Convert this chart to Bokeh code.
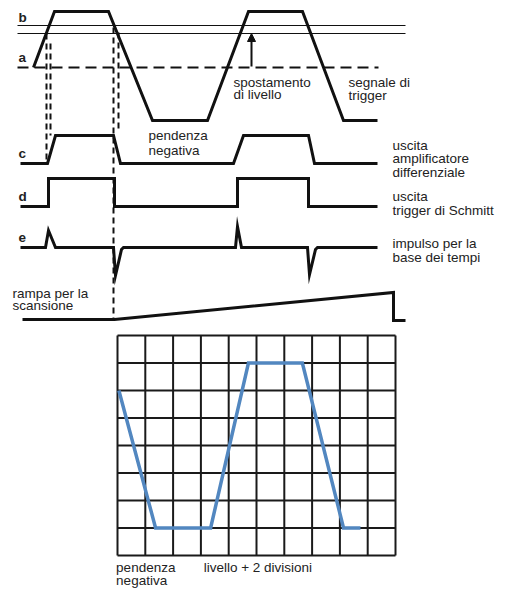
from bokeh.plotting import figure
from bokeh.layouts import column
from bokeh.models import Range1d, Arrow, NormalHead
from bokeh.core.properties import value
from bokeh.embed import file_html
from bokeh.resources import INLINE

# ---------------- data (upper diagram, read in picture units) ----------------
# trigger signal (a/b)
trig_x = [33, 54, 108, 152, 207, 248, 302, 343, 377]
trig_y = [67, 11, 11, 120, 120, 11, 11, 120, 120]
# level lines b (two thin lines) and a (dashed)
level_b_y = [25, 33]
level_b_x = [17, 405]
level_a_y = 67
level_a_x = [17, 378]
# level shift arrow
shift_x = 251
shift_y = [66, 33]
# c: differential amplifier output
amp_x = [20, 47, 55, 113, 120, 233, 243, 308, 314, 377]
amp_y = [163, 163, 135, 135, 163, 163, 135, 135, 163, 163]
# d: Schmitt trigger output
sch_x = [20, 48, 48, 114, 114, 237, 237, 308, 308, 377]
sch_y = [206, 206, 178, 178, 206, 206, 178, 178, 206, 206]
# e: time base pulses
pul_x = [20, 45, 48, 55, 113, 115, 121, 123, 235, 237, 241, 307, 309, 315, 317, 377]
pul_y = [247, 247, 230, 247, 247, 275, 249, 247, 247, 226, 247, 247, 274, 249, 247, 247]
# sweep ramp
ramp_x = [22, 114, 393, 393, 405]
ramp_y = [319, 319, 292, 320, 320]
# dashed projection lines
proj_x = [46, 50, 113, 118]
proj_top = [33, 43, 27, 32]
proj_bot = [163, 135, 318, 130]

left_labels = ["b", "a", "c", "d", "e"]
left_label_y = [17, 57, 153, 196, 237]

text_lines = ["spostamento", "di livello", "segnale di", "trigger",
              "pendenza", "negativa",
              "uscita", "amplificatore", "differenziale",
              "uscita", "trigger di Schmitt",
              "impulso per la", "base dei tempi",
              "rampa per la", "scansione"]
text_x = [233, 233, 348, 348, 148, 148, 392, 392, 392, 392, 392, 392, 392, 12, 12]
text_y = [82, 94, 82, 95, 135, 150, 145, 158, 172, 196, 210, 243, 257, 293, 305]

# ---------------- data (oscilloscope screen, in divisions) ----------------
n_cols = 10
n_rows = 8
trace_div_x = [0.05, 1.37, 3.35, 4.71, 6.65, 8.13, 8.74]
trace_div_y = [6, 1, 1, 7, 7, 1, 1]
screen_labels = ["pendenza", "negativa", "livello + 2 divisioni"]
screen_label_x = [-0.05, -0.05, 3.1]
screen_label_y = [-0.45, -0.91, -0.45]

FONT = value("Liberation Sans")
FS = value("13.5px")
INK = "#111111"
TXT = "#222222"

W = 505
H_TOP = 330
H_BOT = 259

# ---------------- upper figure ----------------
p1 = figure(width=W, height=H_TOP, output_backend="svg", toolbar_location=None,
            x_range=Range1d(0, W), y_range=Range1d(H_TOP, 0), min_border=0)
p1.axis.visible = False
p1.grid.visible = False
p1.outline_line_color = None

for yb in level_b_y:
    p1.line(level_b_x, [yb, yb], line_color=INK, line_width=1)
p1.line(level_a_x, [level_a_y, level_a_y], line_color=INK, line_width=2, line_dash="11 6")
p1.segment(x0=proj_x, y0=proj_top, x1=proj_x, y1=proj_bot, line_color=INK,
           line_width=2, line_dash="6 4")
for xs, ys in [(trig_x, trig_y), (amp_x, amp_y), (sch_x, sch_y), (pul_x, pul_y), (ramp_x, ramp_y)]:
    p1.line(xs, ys, line_color=INK, line_width=3, line_join="miter")
p1.add_layout(Arrow(end=NormalHead(size=8, fill_color=INK, line_color=INK),
                    x_start=shift_x, y_start=shift_y[0], x_end=shift_x, y_end=shift_y[1],
                    line_color=INK, line_width=2))
p1.text([18] * len(left_labels), left_label_y, text=left_labels, text_font=FONT,
        text_font_size=FS, text_font_style="bold", text_baseline="middle",
        text_color=TXT)
p1.text(text_x, text_y, text=text_lines, text_font=FONT, text_font_size=FS,
        text_baseline="middle", text_color=TXT)

# ---------------- oscilloscope screen ----------------
CW, RH = 27.8, 27.5     # px per division
GX0, GY0 = 117, 555     # picture position of the screen's lower-left corner
p2 = figure(width=W, height=H_BOT, output_backend="svg", toolbar_location=None,
            x_range=Range1d((0 - GX0) / CW, (W - GX0) / CW),
            y_range=Range1d((GY0 - (H_TOP + H_BOT)) / RH, (GY0 - H_TOP) / RH), min_border=0)
p2.axis.visible = False
p2.grid.visible = False
p2.outline_line_color = None

cols = list(range(n_cols + 1))
rows = list(range(n_rows + 1))
p2.segment(x0=cols, y0=[0] * len(cols), x1=cols, y1=[n_rows] * len(cols),
           line_color="#1a1a1a", line_width=2)
p2.segment(x0=[0] * len(rows), y0=rows, x1=[n_cols] * len(rows), y1=rows,
           line_color="#1a1a1a", line_width=2)
p2.line(trace_div_x, trace_div_y, line_color="#5287c0", line_width=3.5, line_join="miter")
p2.text(screen_label_x, screen_label_y, text=screen_labels, text_font=FONT,
        text_font_size=FS, text_baseline="middle", text_color=TXT)

layout = column(p1, p2, spacing=0)
open("out.html", "w").write(file_html(layout, INLINE))
